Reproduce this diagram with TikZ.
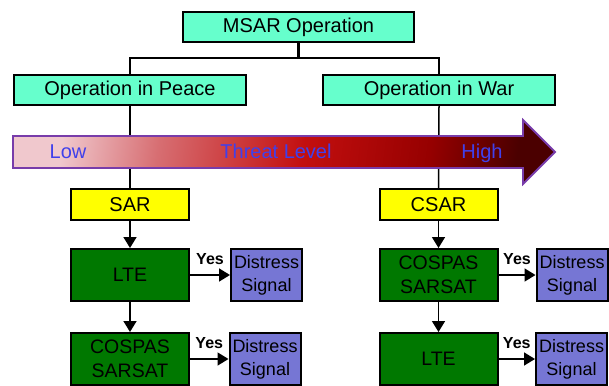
\documentclass[tikz,border=0pt]{standalone}
\usepackage{fontspec}
\setmainfont{Liberation Sans}
\usetikzlibrary{arrows.meta}
\definecolor{tealfill}{RGB}{102,255,204}
\definecolor{sarfill}{RGB}{255,255,0}
\definecolor{greenfill}{RGB}{0,120,0}
\definecolor{sigfill}{RGB}{118,118,212}
\definecolor{threatblue}{RGB}{64,64,235}
\definecolor{threatline}{RGB}{120,60,170}
\definecolor{tc0}{RGB}{240,200,205}
\definecolor{tc1}{RGB}{215,110,114}
\definecolor{tc2}{RGB}{195,15,15}
\definecolor{tc3}{RGB}{150,0,0}
\definecolor{tc4}{RGB}{75,0,0}
\pgfdeclarehorizontalshading{threat}{100bp}{color(0bp)=(tc0); color(27bp)=(tc0); color(37bp)=(tc1); color(52bp)=(tc2); color(65bp)=(tc3); color(74bp)=(tc4); color(100bp)=(tc4)}
\begin{document}
\begin{tikzpicture}[x=1pt,y=-1pt,
  box/.style={draw=black, line width=2pt, inner sep=0pt, align=center, font=\fontsize{20}{24}\selectfont},
  opbox/.style={box, fill=tealfill, minimum width=231pt, minimum height=30pt},
  sarbox/.style={box, fill=sarfill, minimum width=118pt, minimum height=31pt},
  procbox/.style={box, fill=greenfill, minimum width=118pt, minimum height=52pt, font=\fontsize{19.5}{24}\selectfont},
  sigbox/.style={box, fill=sigfill, minimum width=71pt, minimum height=52pt, font=\fontsize{18}{23}\selectfont},
  link/.style={line width=1.5pt},
  flow/.style={line width=1.6pt, -{Triangle[width=13pt,length=11pt]}},
  yes/.style={above=10pt, inner sep=0pt, font=\bfseries\fontsize{16}{18}\selectfont},
  lvl/.style={text=threatblue, anchor=base, inner sep=0pt, font=\fontsize{20}{24}\selectfont}]
\useasboundingbox (0,0) rectangle (609,385);

\node[opbox] (msar) at (298.5,27.5) {MSAR Operation};
\node[opbox, minimum width=232pt] (peace) at (130,90) {Operation in Peace};
\node[opbox, minimum width=232pt] (war) at (439,90) {Operation in War};
\coordinate (split) at (298.5,58);

\draw[line width=3pt] (msar.south) -- (split);
\draw[link] (peace.north) |- (split) -| (war.north);

\node[sarbox] (sar) at (130,204.5) {SAR};
\node[sarbox] (csar) at (438.5,204.5) {CSAR};
\draw[link] (peace.south) -- (sar.north);
\draw[link] (war.south) -- (csar.north);

% threat level arrow
\path[draw=threatline, line width=1.8pt, shading=threat, shading angle=-8]
  (13,136) -- (523,136) -- (523,120) -- (555,152) -- (523,184) -- (523,168) -- (13,168) -- cycle;
\node[lvl] (low) at (68,158) {Low};
\node[lvl] (lvltxt) at (276,158) {Threat Level};
\node[lvl] (high) at (482,158) {High};

% left column
\node[procbox] (lte1) at (130,275) {LTE};
\node[procbox] (cos1) at (130,359) {COSPAS\\SARSAT};
\node[sigbox] (ds1) at (266.5,275) {Distress\\Signal};
\node[sigbox] (ds2) at (265,359) {Distress\\Signal};

% right column
\node[procbox] (cos2) at (438.5,275) {COSPAS\\SARSAT};
\node[procbox] (lte2) at (438.5,359) {LTE};
\node[sigbox] (ds3) at (572,275) {Distress\\Signal};
\node[sigbox] (ds4) at (571.5,359) {Distress\\Signal};

\draw[flow] (sar) -- (lte1);
\draw[flow] (lte1) -- (cos1);
\draw[flow] (csar) -- (cos2);
\draw[flow] (cos2) -- (lte2);

\draw[flow] (lte1) -- node[yes] {Yes} (ds1);
\draw[flow] (cos1) -- node[yes] {Yes} (ds2);
\draw[flow] (cos2) -- node[yes] {Yes} (ds3);
\draw[flow] (lte2) -- node[yes] {Yes} (ds4);
\end{tikzpicture}
\end{document}
